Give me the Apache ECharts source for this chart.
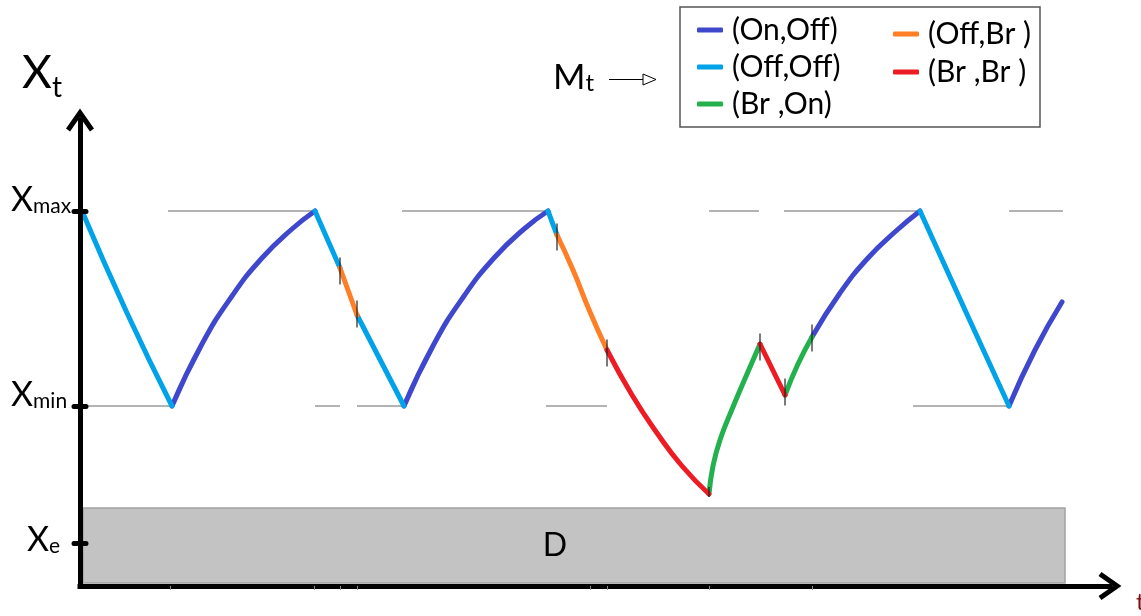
<!DOCTYPE html>
<html><head><meta charset="utf-8">
<script src="https://cdn.jsdelivr.net/npm/echarts@6/dist/echarts.min.js"></script>
<style>html,body{margin:0;padding:0;background:#fff}#c{width:1141px;height:616px}</style>
</head><body><div id="c"></div>
<script>
// ---------- data (t, X) ----------
const stateNames  = ['(On,Off)', '(Off,Off)', '(Br ,On)', '(Off,Br )', '(Br ,Br )'];
const stateColors = ['#3f48cc', '#00a2e8', '#22b14c', '#ff7f27', '#ed1c24'];

const XMAX = 37.5, XMIN = 18.0, XE = 4.3;
const levelValues = [XE, XMIN, XMAX];
const levelNames  = ['e', 'min', 'max'];

const onOffSegments = [
  [[9.2,18.0],[12.2,24.2],[15.2,29.0],[18.2,32.8],[21.2,35.7],[23.5,37.5]],
  [[32.4,18.0],[35.4,24.2],[38.4,29.0],[41.4,32.8],[44.4,35.7],[46.8,37.5]],
  [[73.2,24.9],[76.0,29.3],[78.8,32.8],[81.6,35.5],[84.0,37.5]],
  [[92.9,18.0],[95.5,23.6],[98.2,28.4]]
];
const offOffSegments = [
  [[0.2,37.5],[4.7,27.3],[9.2,18.0]],
  [[23.5,37.5],[26.0,31.8]],
  [[27.7,27.1],[32.4,18.0]],
  [[46.8,37.5],[47.7,35.1]],
  [[84.0,37.5],[88.5,27.6],[92.9,18.0]]
];
const brOnSegments = [
  [[62.9,9.2],[63.3,12.0],[64.0,14.6],[65.3,17.9],[66.7,21.2],[68.0,24.2]],
  [[70.5,19.1],[71.8,22.2],[73.2,24.9]]
];
const offBrSegments = [
  [[26.0,31.8],[27.7,27.1]],
  [[47.7,35.1],[49.3,31.6],[51.0,27.4],[52.7,23.6]]
];
const brBrSegments = [
  [[52.7,23.6],[55.2,19.1],[57.7,15.3],[60.2,12.0],[62.9,9.2]],
  [[68.0,24.2],[70.5,19.1]]
];
const stateSegments = [onOffSegments, offOffSegments, brOnSegments, offBrSegments, brBrSegments];

// switching instants (small vertical marks)
const switchMarks = [[26.0,31.5],[27.7,27.2],[47.7,34.9],[52.7,23.3],[68.0,23.9],[70.5,19.4],[73.2,24.8]];
const switchMarksShort = [[62.9,9.4]];

// thin reference lines at Xmax / Xmin : [t start, t end]
const xmaxRefRanges = [[8.8,23.5],[32.2,46.8],[62.9,67.9],[70.4,84.0],[92.9,98.3]];
const xminRefRanges = [[0.2,9.2],[23.5,26.0],[27.7,32.4],[46.6,52.7],[83.3,92.9]];

// region D : [[t0, X0], [t1, X1]]
const dRegion = [[0.3,0.3],[98.5,7.8]];

// small marks on the time axis
const timeMarks = [9.0,23.4,26.0,27.7,51.0,52.7,62.9,73.2];

// ---------- chart ----------
const FONT = 'Lato, "Noto Sans", sans-serif';
const chart = echarts.init(document.getElementById('c'), null, {renderer: 'canvas'});
const chevron = 'path://M14,0 L28,20 L23.9,22.9 L14,8.7 L4.1,22.9 L0,20 Z';

const series = [];
xmaxRefRanges.forEach(function (r, i) {
  const s = {
    type: 'line', data: [[r[0], XMAX], [r[1], XMAX]], symbol: 'none', silent: true, z: 1,
    lineStyle: {color: '#9a9a9a', width: 1.5}
  };
  if (i === 0) {
    s.markArea = {
      silent: true,
      itemStyle: {color: '#c3c3c3', borderColor: '#a3a3a3', borderWidth: 1.5},
      label: {show: true, position: 'inside', formatter: 'D', fontSize: 32, fontFamily: FONT, color: '#000', offset: [-19, 0]},
      data: [[{xAxis: dRegion[0][0], yAxis: dRegion[0][1]}, {xAxis: dRegion[1][0], yAxis: dRegion[1][1]}]]
    };
  }
  series.push(s);
});
xminRefRanges.forEach(function (r) {
  series.push({type: 'line', data: [[r[0], XMIN], [r[1], XMIN]], symbol: 'none', silent: true, z: 1,
    lineStyle: {color: '#9a9a9a', width: 1.5}});
});
stateSegments.forEach(function (segs, k) {
  segs.forEach(function (seg) {
    series.push({
      type: 'line', name: stateNames[k], data: seg, smooth: 0.5,
      symbol: 'none', showSymbol: false, silent: true, z: 3,
      lineStyle: {color: stateColors[k], width: 5, cap: 'round', join: 'round'},
      itemStyle: {color: stateColors[k]}
    });
  });
});
series.push({type: 'scatter', data: switchMarks, symbol: 'rect', symbolSize: [1.5, 27], silent: true, z: 4,
  itemStyle: {color: '#222'}});
series.push({type: 'scatter', data: switchMarksShort, symbol: 'rect', symbolSize: [1.5, 10], silent: true, z: 4,
  itemStyle: {color: '#222'}});

const legendBase = {
  orient: 'vertical', itemWidth: 26, itemHeight: 5, icon: 'roundRect', selectedMode: false, padding: 0,
  textStyle: {fontFamily: FONT, fontSize: 30, color: '#000', padding: [0, 0, 0, 4]}
};

chart.setOption({
  animation: false,
  backgroundColor: '#fff',
  grid: {left: 80, right: 31, top: 120, bottom: 30, containLabel: false, outerBoundsMode: 'none'},
  xAxis: {
    type: 'value', min: 0, max: 103, z: 5,
    name: 't', nameLocation: 'end', nameGap: 26, nameMoveOverlap: false,
    nameTextStyle: {color: '#7b1010', fontSize: 24, fontFamily: FONT, align: 'left', verticalAlign: 'top', padding: [4, 0, 0, 0]},
    axisLine: {show: true, symbol: ['none', chevron], symbolSize: [28, 25],
      lineStyle: {color: '#000', width: 5, cap: 'square'}},
    axisTick: {show: true, customValues: timeMarks, length: 4, lineStyle: {color: '#8a8a8a', width: 1}},
    axisLabel: {show: false},
    splitLine: {show: false}
  },
  yAxis: [{
    type: 'value', min: 0, max: 46.6, z: 5,
    name: '{X|X}{s|t}', nameLocation: 'end', nameGap: 18, nameMoveOverlap: false,
    nameTextStyle: {align: 'right', verticalAlign: 'bottom', padding: [0, 18, 0, 0],
      rich: {
        X: {fontSize: 46, fontFamily: FONT, color: '#000', verticalAlign: 'bottom', padding: [0, 0, 6, 0]},
        s: {fontSize: 28, fontFamily: FONT, color: '#000', verticalAlign: 'bottom'}
      }},
    axisLine: {show: true, symbol: ['none', chevron], symbolSize: [28, 25],
      lineStyle: {color: '#000', width: 5, cap: 'square'}},
    axisTick: {show: true, customValues: levelValues, length: 6, lineStyle: {color: '#000', width: 5, cap: 'round'}},
    axisLabel: {
      show: true, customValues: levelValues, align: 'left', margin: 69,
      formatter: function (v) {
        const i = levelValues.findIndex(function (u) { return Math.abs(u - v) < 1e-6; });
        const sub = levelNames[i];
        return sub === 'e' ? '{Xe|X}{se|' + sub + '}' : '{X|X}{s|' + sub + '}';
      },
      rich: {
        X:  {fontSize: 34, lineHeight: 12, verticalAlign: 'bottom', fontFamily: FONT, color: '#000'},
        s:  {fontSize: 21, lineHeight: 12, verticalAlign: 'bottom', fontFamily: FONT, color: '#000'},
        Xe: {fontSize: 34, lineHeight: 28, verticalAlign: 'bottom', fontFamily: FONT, color: '#000', padding: [0, 0, 0, 16]},
        se: {fontSize: 21, lineHeight: 28, verticalAlign: 'bottom', fontFamily: FONT, color: '#000'}
      }
    },
    splitLine: {show: false}
  }, {
    type: 'value', min: 0, max: 46.6, position: 'left', offset: 0, z: 5,
    axisLine: {show: false},
    axisTick: {show: true, inside: true, customValues: levelValues, length: 6, lineStyle: {color: '#000', width: 5, cap: 'round'}},
    axisLabel: {show: false},
    splitLine: {show: false}
  }],
  legend: [
    Object.assign({}, legendBase, {data: stateNames.slice(0, 3), left: 697, top: 15, itemGap: 7}),
    Object.assign({}, legendBase, {data: stateNames.slice(3), left: 893, top: 19, itemGap: 8})
  ],
  graphic: [
    {type: 'rect', z: -1, shape: {x: 680, y: 7, width: 360, height: 120}, style: {fill: '#fff', stroke: '#555', lineWidth: 1.5}},
    {type: 'text', x: 553, y: 78, style: {text: '{M|M}{t|t}', verticalAlign: 'middle', fill: '#000',
      rich: {M: {fontSize: 35, fontFamily: FONT, verticalAlign: 'bottom'}, t: {fontSize: 24, fontFamily: FONT, verticalAlign: 'bottom', padding: [0, 0, 0, 0]}}}},
    {type: 'line', shape: {x1: 609, y1: 79.5, x2: 643, y2: 79.5}, style: {stroke: '#000', lineWidth: 1}},
    {type: 'polygon', shape: {points: [[643, 74], [656, 79.5], [643, 85]]}, style: {fill: '#fff', stroke: '#000', lineWidth: 1}}
  ],
  series: series
});
</script></body></html>
